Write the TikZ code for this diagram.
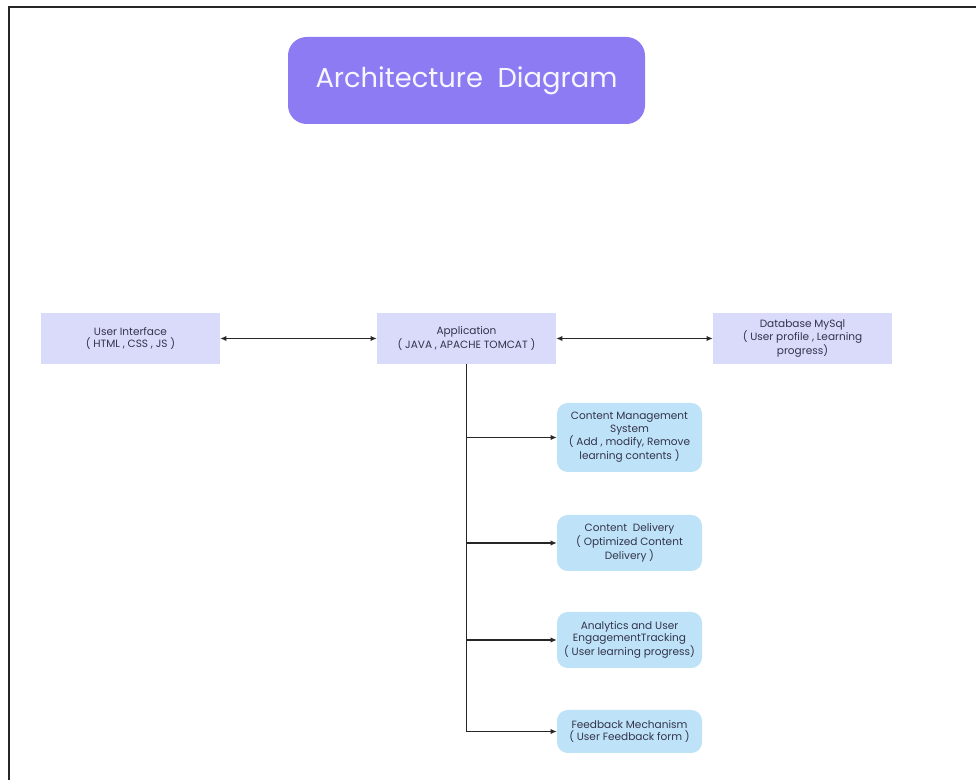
\documentclass[tikz,border=0pt]{standalone}
\usepackage{fontspec}
\setmainfont{Poppins}
\usetikzlibrary{arrows.meta}
\definecolor{titlefill}{HTML}{8C7BF3}
\definecolor{lav}{HTML}{DADBFB}
\definecolor{sky}{HTML}{BEE3F8}
\definecolor{txt}{HTML}{33334A}
\tikzset{
  px/.style={x=0.75pt,y=-0.75pt},
  sqbox/.style={fill=lav,draw=none,inner sep=0pt,align=center,text=txt,font=\fontsize{7.9}{9.3}\selectfont},
  rbox/.style={fill=sky,draw=none,rounded corners=8pt,inner sep=0pt,align=center,text=txt,font=\fontsize{7.9}{9.3}\selectfont},
  conn/.style={draw=black!85,line width=1.3pt},
  tip/.style={-{Latex[length=4.5pt,width=4pt]}},
  dtip/.style={{Latex[length=4.5pt,width=4pt]}-{Latex[length=4.5pt,width=4pt]}}
}
\begin{document}
\begin{tikzpicture}[px]
\useasboundingbox (0,0) rectangle (976,780);
\fill[white] (0,0) rectangle (976,780);
\draw[line width=1.6pt,black!85] (9,780) -- (9,7) -- (976,7);
% title
\node[fill=titlefill,rounded corners=14pt,minimum width=357*0.75pt,minimum height=87*0.75pt,text=white!93!titlefill,font=\fontsize{20.5}{22}\selectfont] (title) at (466.5,80.5) {Architecture\ \ Diagram};
% top row
\node[sqbox,minimum width=179*0.75pt,minimum height=51*0.75pt] (ui) at (130.5,338.5) {User Interface\\( HTML , CSS , JS )};
\node[sqbox,minimum width=179*0.75pt,minimum height=51*0.75pt] (app) at (466.5,338.5) {Application\\( JAVA , APACHE TOMCAT )};
\node[sqbox,minimum width=179*0.75pt,minimum height=51*0.75pt] (db) at (802.5,338.5) {Database MySql\\( User profile , Learning\\progress)};
% lower boxes
\node[rbox,minimum width=145*0.75pt,minimum height=69*0.75pt] (cms) at (629.5,437.5) {Content Management\\System\\( Add , modify, Remove\\learning contents )};
\node[rbox,minimum width=145*0.75pt,minimum height=56*0.75pt] (cd) at (629.5,543) {Content\ \ Delivery\\( Optimized Content\\Delivery )};
\node[rbox,minimum width=145*0.75pt,minimum height=56*0.75pt] (an) at (629.5,640) {Analytics and User\\EngagementTracking\\( User learning progress)};
\node[rbox,minimum width=145*0.75pt,minimum height=43*0.75pt] (fb) at (629.5,731.5) {Feedback Mechanism\\( User Feedback form )};
% connectors
\draw[conn,dtip] (ui.east) -- (app.west);
\draw[conn,dtip] (app.east) -- (db.west);
\draw[conn,tip] (app.south) |- (fb.west);
\draw[conn,tip] (app.south |- cms.west) -- (cms.west);
\draw[conn,tip] (app.south |- cd.west) -- (cd.west);
\draw[conn,tip] (app.south |- an.west) -- (an.west);
\end{tikzpicture}
\end{document}
